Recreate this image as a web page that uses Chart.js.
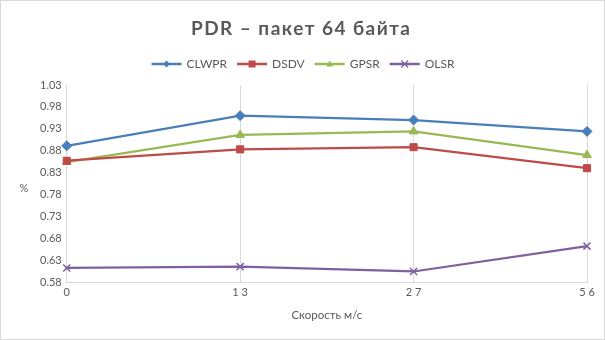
<!DOCTYPE html>
<html>
<head>
<meta charset="utf-8">
<script src="https://cdn.jsdelivr.net/npm/chart.js@4/dist/chart.umd.min.js"></script>
<style>
  html, body { margin: 0; padding: 0; background: #fff; }
  #wrap { position: relative; width: 603px; height: 338px; border: 1px solid #d9d9d9; }
</style>
</head>
<body>
<div id="wrap"><canvas id="pdrChart" width="603" height="338"></canvas></div>
<script>
// speed categories (labels as shown on the axis)
const speeds = ['0', '1 3', '2 7', '5 6'];

const clwpr = [0.891, 0.960, 0.950, 0.924];
const dsdv  = [0.857, 0.883, 0.888, 0.840];
const gpsr  = [0.854, 0.916, 0.924, 0.870];
const olsr  = [0.612, 0.615, 0.604, 0.662];

const yMin = 0.58, yMax = 1.03, yStep = 0.05;

const textGray = '#595959';
const fontFam = 'Lato, "Open Sans", sans-serif';

// draw one marker shape centred at (x, y)
function drawMarker(g, style, x, y, r) {
    g.beginPath();
    if (style === 'rectRot') {
        g.moveTo(x, y - r); g.lineTo(x + r, y); g.lineTo(x, y + r); g.lineTo(x - r, y); g.closePath(); g.fill();
    } else if (style === 'rect') {
        g.fillRect(x - r, y - r, 2 * r, 2 * r);
    } else if (style === 'triangle') {
        g.moveTo(x, y - r); g.lineTo(x + r, y + r * 0.7); g.lineTo(x - r, y + r * 0.7); g.closePath(); g.fill();
    } else {
        g.lineWidth = 1.2;
        g.moveTo(x - r, y - r); g.lineTo(x + r, y + r); g.moveTo(x + r, y - r); g.lineTo(x - r, y + r); g.stroke();
    }
}

function series(label, data, color, style, radius) {
    return {
        label: label,
        data: data,
        borderColor: color,
        backgroundColor: color,
        borderWidth: 2.25,
        pointStyle: style,
        pointRadius: radius,
        pointHoverRadius: radius,
        pointBorderWidth: style === 'crossRot' ? 1.5 : 1,
        tension: 0,
        markerStyle: style
    };
}

// title, legend and "%" label drawn by hand (Excel-like placement)
const decorPlugin = {
    id: 'decor',
    afterDraw(chart) {
        const ctx = chart.ctx;
        ctx.save();

        // title, spread out to the width Excel gives it
        const title = 'PDR – пакет 64 байта';
        ctx.font = 'bold 19px ' + fontFam;
        ctx.fillStyle = textGray;
        ctx.textBaseline = 'middle';
        ctx.textAlign = 'left';
        const natural = ctx.measureText(title).width;
        const spacing = Math.max(0, (219 - natural) / (title.length - 1));
        ctx.letterSpacing = spacing + 'px';
        ctx.fillText(title, 190, 28);
        ctx.letterSpacing = '0px';

        // legend
        ctx.font = '12px ' + fontFam;
        const lineLen = 30, gapText = 5, gapItem = 10;
        const items = chart.data.datasets;
        let total = 0;
        items.forEach((ds, i) => {
            total += lineLen + gapText + ctx.measureText(ds.label).width;
            if (i < items.length - 1) total += gapItem;
        });
        let x = 302 - total / 2;
        const ly = 63;
        items.forEach(ds => {
            ctx.strokeStyle = ds.borderColor;
            ctx.fillStyle = ds.borderColor;
            ctx.lineWidth = 2.5;
            ctx.beginPath(); ctx.moveTo(x, ly); ctx.lineTo(x + lineLen, ly); ctx.stroke();
            drawMarker(ctx, ds.markerStyle, x + lineLen / 2, ly, 3.5);
            x += lineLen + gapText;
            ctx.fillStyle = textGray;
            ctx.fillText(ds.label, x, ly);
            x += ctx.measureText(ds.label).width + gapItem;
        });

        // y axis title
        ctx.font = '11px ' + fontFam;
        ctx.textAlign = 'center';
        ctx.fillText('%', 23, 187);
        ctx.restore();
    }
};

new Chart(document.getElementById('pdrChart'), {
    type: 'line',
    data: {
        labels: speeds,
        datasets: [
            series('CLWPR', clwpr, '#4a7ebb', 'rectRot', 5),
            series('DSDV', dsdv, '#be4b48', 'rect', 5),
            series('GPSR', gpsr, '#98b954', 'triangle', 5),
            series('OLSR', olsr, '#7d60a0', 'crossRot', 5)
        ]
    },
    options: {
        responsive: false,
        animation: false,
        layout: { padding: { left: 34, right: 17, top: 84, bottom: 17 } },
        plugins: {
            title: { display: false },
            legend: { display: false },
            tooltip: { enabled: false }
        },
        scales: {
            x: {
                type: 'category',
                offset: false,
                grid: { color: '#d9d9d9', lineWidth: 1, drawTicks: false },
                border: { color: '#d9d9d9' },
                ticks: { color: textGray, font: { family: fontFam, size: 11 }, padding: 4, maxRotation: 0 },
                title: {
                    display: true,
                    text: 'Скорость м/с',
                    color: textGray,
                    font: { family: fontFam, size: 11.5 },
                    padding: { top: 5, bottom: 0 }
                }
            },
            y: {
                min: yMin,
                max: yMax,
                grid: { display: false, drawTicks: false },
                border: { color: '#d9d9d9' },
                ticks: {
                    stepSize: yStep,
                    color: textGray,
                    font: { family: fontFam, size: 11 },
                    padding: 5,
                    callback: v => v.toFixed(2)
                }
            }
        }
    },
    plugins: [decorPlugin]
});
</script>
</body>
</html>
